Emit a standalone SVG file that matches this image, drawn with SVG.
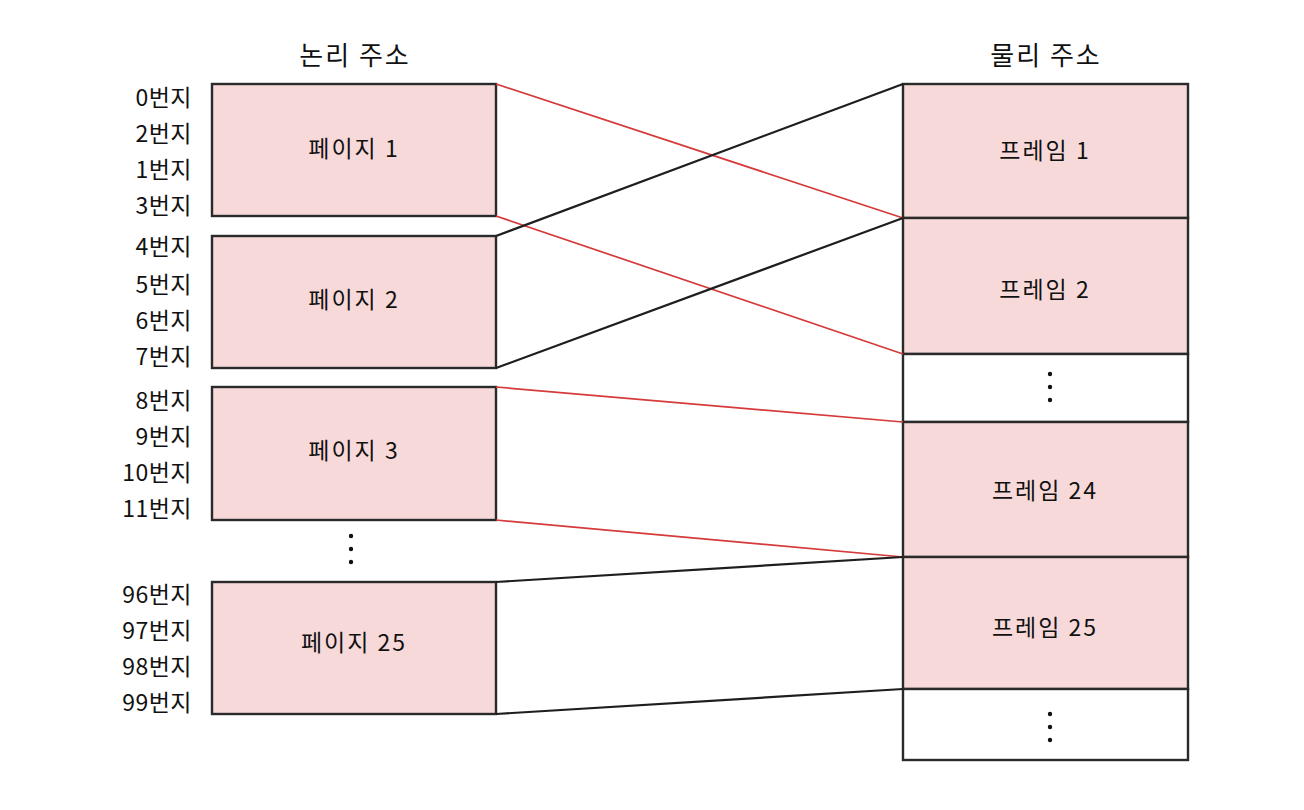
<svg xmlns="http://www.w3.org/2000/svg" width="1304" height="810" viewBox="0 0 1304 810">
<style>
  text { font-family: "Noto Sans CJK KR", "Noto Sans", sans-serif; font-size: 23px; fill: #111; }
  .title { font-size: 26px; text-anchor: middle; letter-spacing: 2px; }
  .addr { text-anchor: end; letter-spacing: 0.5px; }
  .lbl { text-anchor: middle; letter-spacing: 2px; }
  .box { fill: #f7d9da; stroke: #2a2a2a; stroke-width: 2.4; }
  .empty { fill: #ffffff; stroke: #2a2a2a; stroke-width: 2.4; }
  .red { stroke: #d63a3a; stroke-width: 1.7; fill: none; }
  .blk { stroke: #1e1e1e; stroke-width: 2.2; fill: none; }
  .dot { fill: #111; }
</style>
<rect width="1304" height="810" fill="#ffffff"/>
<text class="title" x="355" y="65">논리 주소</text>
<text class="title" x="1046" y="65">물리 주소</text>

<g id="page1">
  <rect class="box" x="212" y="84" width="284" height="132"/>
  <text class="lbl" x="354" y="157">페이지 1</text>
  <text class="addr" x="192" y="106">0번지</text>
  <text class="addr" x="192" y="142">2번지</text>
  <text class="addr" x="192" y="178">1번지</text>
  <text class="addr" x="192" y="214">3번지</text>
</g>
<g id="page2">
  <rect class="box" x="212" y="236" width="284" height="132"/>
  <text class="lbl" x="354" y="308">페이지 2</text>
  <text class="addr" x="192" y="255">4번지</text>
  <text class="addr" x="192" y="293">5번지</text>
  <text class="addr" x="192" y="329">6번지</text>
  <text class="addr" x="192" y="365">7번지</text>
</g>
<g id="page3">
  <rect class="box" x="212" y="387" width="284" height="133"/>
  <text class="lbl" x="354" y="459">페이지 3</text>
  <text class="addr" x="192" y="409">8번지</text>
  <text class="addr" x="192" y="445">9번지</text>
  <text class="addr" x="192" y="481">10번지</text>
  <text class="addr" x="192" y="517">11번지</text>
</g>
<g id="page-dots">
  <circle class="dot" cx="351" cy="536" r="2.2"/>
  <circle class="dot" cx="351" cy="549" r="2.2"/>
  <circle class="dot" cx="351" cy="562" r="2.2"/>
</g>
<g id="page25">
  <rect class="box" x="212" y="582" width="284" height="132"/>
  <text class="lbl" x="354" y="651">페이지 25</text>
  <text class="addr" x="192" y="603">96번지</text>
  <text class="addr" x="192" y="639">97번지</text>
  <text class="addr" x="192" y="675">98번지</text>
  <text class="addr" x="192" y="711">99번지</text>
</g>

<g id="frame1">
  <rect class="box" x="903" y="84" width="285" height="134"/>
  <text class="lbl" x="1045" y="159">프레임 1</text>
</g>
<g id="frame2">
  <rect class="box" x="903" y="218" width="285" height="136"/>
  <text class="lbl" x="1045" y="298">프레임 2</text>
</g>
<g id="frame-dots1">
  <rect class="empty" x="903" y="354" width="285" height="68"/>
  <circle class="dot" cx="1050" cy="374" r="2.2"/>
  <circle class="dot" cx="1050" cy="387" r="2.2"/>
  <circle class="dot" cx="1050" cy="400" r="2.2"/>
</g>
<g id="frame24">
  <rect class="box" x="903" y="422" width="285" height="135"/>
  <text class="lbl" x="1045" y="499">프레임 24</text>
</g>
<g id="frame25">
  <rect class="box" x="903" y="557" width="285" height="132"/>
  <text class="lbl" x="1045" y="636">프레임 25</text>
</g>
<g id="frame-dots2">
  <rect class="empty" x="903" y="689" width="285" height="71"/>
  <circle class="dot" cx="1050" cy="714" r="2.2"/>
  <circle class="dot" cx="1050" cy="727" r="2.2"/>
  <circle class="dot" cx="1050" cy="740" r="2.2"/>
</g>

<g id="connectors">
  <line class="red" x1="496" y1="84" x2="903" y2="218"/>
  <line class="red" x1="496" y1="216" x2="903" y2="354"/>
  <line class="red" x1="496" y1="387" x2="903" y2="422"/>
  <line class="red" x1="496" y1="520" x2="903" y2="557"/>
  <line class="blk" x1="496" y1="236" x2="903" y2="84"/>
  <line class="blk" x1="496" y1="368" x2="903" y2="218"/>
  <line class="blk" x1="496" y1="582" x2="903" y2="557"/>
  <line class="blk" x1="496" y1="714" x2="903" y2="689"/>
</g>
</svg>
